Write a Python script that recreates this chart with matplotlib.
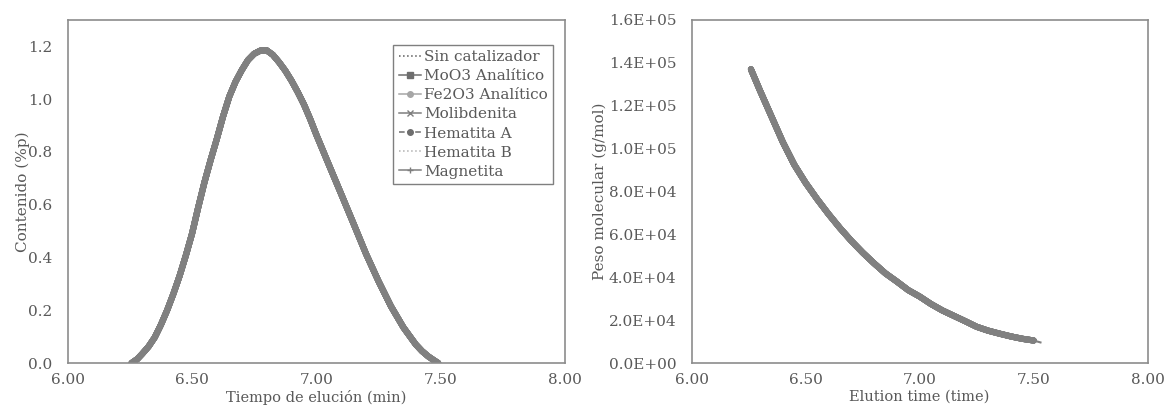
import numpy as np
import matplotlib
matplotlib.use('Agg')
import matplotlib.pyplot as plt
from matplotlib.lines import Line2D
from matplotlib.ticker import FormatStrFormatter, FuncFormatter

plt.rcParams['font.family'] = ['DejaVu Serif']

# Curva de distribución (las siete muestras se superponen)
t_cont = [6.257, 6.28, 6.30, 6.325, 6.35, 6.375, 6.40, 6.425, 6.45, 6.475, 6.50, 6.525,
          6.55, 6.575, 6.60, 6.625, 6.65, 6.675, 6.70, 6.725, 6.75, 6.775, 6.80, 6.825,
          6.85, 6.875, 6.90, 6.925, 6.95, 6.975, 7.00, 7.05, 7.10, 7.15, 7.20, 7.25,
          7.30, 7.35, 7.40, 7.425, 7.45, 7.475, 7.49]
contenido = [0.0, 0.015, 0.035, 0.062, 0.097, 0.145, 0.20, 0.262, 0.33, 0.407, 0.49, 0.59,
             0.685, 0.77, 0.85, 0.935, 1.01, 1.066, 1.11, 1.148, 1.172, 1.184, 1.185, 1.168,
             1.14, 1.108, 1.07, 1.027, 0.98, 0.925, 0.865, 0.752, 0.64, 0.527, 0.413, 0.31,
             0.215, 0.135, 0.07, 0.045, 0.025, 0.009, 0.0]

# Curva de calibración peso molecular vs tiempo de elución
t_pm = [6.26, 6.30, 6.35, 6.40, 6.45, 6.50, 6.55, 6.60, 6.65, 6.70, 6.75, 6.80, 6.85,
        6.90, 6.95, 7.00, 7.05, 7.10, 7.15, 7.20, 7.25, 7.30, 7.35, 7.40, 7.45, 7.50]
peso_mol = [137000, 127000, 115000, 103000, 92500, 84000, 76500, 69500, 63000, 57000,
            51500, 46500, 41800, 38000, 34000, 31000, 27500, 24500, 22000, 19500,
            16900, 15100, 13700, 12400, 11300, 10500]
t_cola = [7.50, 7.53]
pm_cola = [10500, 9600]

muestras = ['Sin catalizador', 'MoO3 Analítico', 'Fe2O3 Analítico', 'Molibdenita',
            'Hematita A', 'Hematita B', 'Magnetita']
# (color, linestyle, marker)
estilos = [('#5a5a5a', ':', None),
           ('#6e6e6e', '-', 's'),
           ('#a6a6a6', '-', 'o'),
           ('#7f7f7f', '-', 'x'),
           ('#6e6e6e', '--', 'o'),
           ('#b0b0b0', ':', None),
           ('#7f7f7f', '-', '+')]

GRIS_TXT = '#595959'
GRIS_EJE = '#8c8c8c'
BANDA = '#808080'

fig = plt.figure(figsize=(11.65, 4.07), dpi=100)
ax1 = fig.add_axes([0.0581, 0.1081, 0.4269, 0.8428])
ax2 = fig.add_axes([0.5937, 0.1081, 0.3914, 0.8428])

for ax in (ax1, ax2):
    for s in ax.spines.values():
        s.set_color(GRIS_EJE)
        s.set_linewidth(1.2)
    ax.tick_params(length=0, colors=GRIS_TXT, labelsize=11)
    ax.tick_params(axis='x', pad=7)
    ax.tick_params(axis='y', pad=11)
    ax.set_xlim(6.0, 8.0)
    ax.set_xticks([6.0, 6.5, 7.0, 7.5, 8.0])
    ax.xaxis.set_major_formatter(FormatStrFormatter('%.2f'))

# Panel izquierdo
for nombre in muestras:
    ax1.plot(t_cont, contenido, color=BANDA, lw=4.4,
             solid_capstyle='round', solid_joinstyle='round')
ax1.set_ylim(0, 1.3)
ax1.set_yticks(np.arange(0, 1.21, 0.2))
ax1.yaxis.set_major_formatter(FormatStrFormatter('%.1f'))
ax1.set_xlabel('Tiempo de elución (min)', color=GRIS_TXT, fontsize=10.5, labelpad=2)
ax1.set_ylabel('Contenido (%p)', color=GRIS_TXT, fontsize=11, labelpad=-1)

handles = [Line2D([0], [0], color=c, ls=ls, marker=m, markersize=4, lw=1.1)
           for c, ls, m in estilos]
leg = ax1.legend(handles, muestras, loc='upper right', bbox_to_anchor=(0.976, 0.927),
                 fontsize=11, handlelength=1.45, handletextpad=0.2, labelspacing=0.33,
                 borderpad=0.35, borderaxespad=0, fancybox=False, framealpha=1)
leg.get_frame().set_edgecolor('#7f7f7f')
leg.get_frame().set_linewidth(1.0)
for txt in leg.get_texts():
    txt.set_color(GRIS_TXT)

# Panel derecho
for nombre in muestras:
    ax2.plot(t_pm, peso_mol, color=BANDA, lw=4.4,
             solid_capstyle='round', solid_joinstyle='round')
ax2.plot(t_cola, pm_cola, color=BANDA, lw=1.5)
ax2.set_ylim(0, 160000)
ax2.set_yticks(np.arange(0, 160001, 20000))
ax2.yaxis.set_major_formatter(FuncFormatter(lambda v, p: f'{v:.1E}'))
ax2.set_xlabel('Elution time (time)', color=GRIS_TXT, fontsize=10.5, labelpad=2)
ax2.set_ylabel('Peso molecular (g/mol)', color=GRIS_TXT, fontsize=11, labelpad=1)

fig.savefig('out.png', dpi=100)
